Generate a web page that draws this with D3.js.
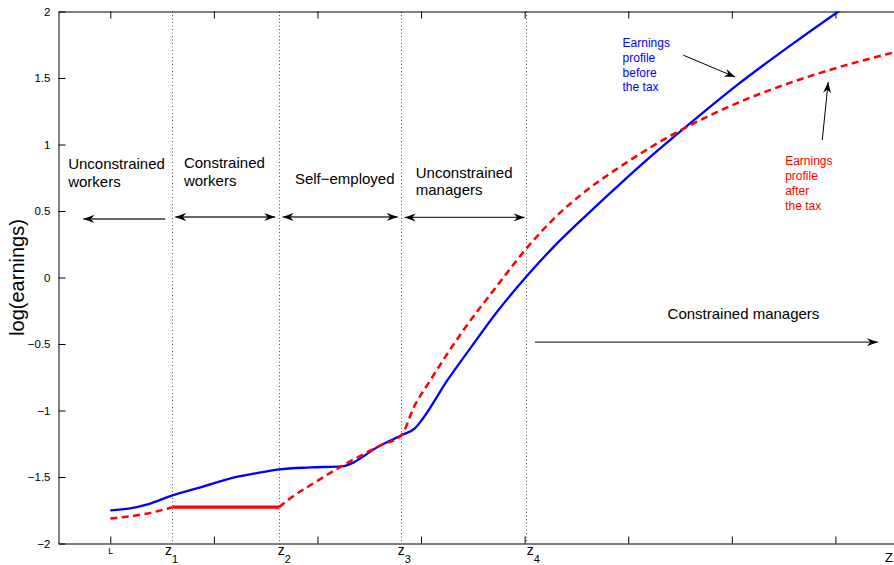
<!DOCTYPE html>
<html>
<head>
<meta charset="utf-8">
<script src="https://cdn.jsdelivr.net/npm/d3@7/dist/d3.min.js"></script>
<style>
  html, body { margin: 0; padding: 0; background: #fff; }
  svg { display: block; font-family: "Liberation Sans", Arial, Helvetica, sans-serif; }
</style>
</head>
<body>
<svg id="chart" width="894" height="565"></svg>
<script>
// Ability grid (x) and log earnings before the tax (blue, solid)
const blueX = [1.00, 1.19, 1.36, 1.60, 1.87, 2.16, 2.40, 2.63, 2.93, 3.23, 3.61, 3.81, 3.94, 4.02,
               4.25, 4.48, 4.74, 5.03, 5.28, 5.60, 5.92, 6.18, 6.57, 7.05, 7.54, 8.03, 8.24];
const blueY = [-1.751, -1.736, -1.706, -1.638, -1.578, -1.510, -1.473, -1.443, -1.428, -1.420, -1.262, -1.186, -1.134, -1.058,
               -0.778, -0.527, -0.252, 0.019, 0.230, 0.471, 0.702, 0.884, 1.141, 1.446, 1.730, 2.000, 2.110];

// Log earnings after the tax (red): unconstrained workers, constrained workers, everyone above z2
const redLowX = [1.00, 1.36, 1.60];
const redLowY = [-1.812, -1.774, -1.727];
const redFlatX = [1.60, 2.63];
const redFlatY = [-1.727, -1.727];
const redHighX = [2.63, 2.71, 2.96, 3.23, 3.61, 3.81, 3.93, 4.09, 4.41, 4.74, 5.03, 5.28, 5.63, 5.92,
                  6.21, 6.57, 7.05, 7.54, 8.02, 8.57, 8.75];
const redHighY = [-1.727, -1.676, -1.548, -1.420, -1.262, -1.186, -0.976, -0.772, -0.395, -0.056, 0.230, 0.441, 0.674, 0.832,
                  0.976, 1.134, 1.311, 1.458, 1.578, 1.694, 1.730];

// Occupational thresholds
const zCuts = [1.595, 2.628, 3.805, 5.011];
const zNames = ["1", "2", "3", "4"];
const zLabelX = [1.528, 2.617, 3.775, 5.020];

// Axis ticks
const xTicks = [1, 2, 3, 4, 5, 6, 7, 8];
const yTicks = [2, 1.5, 1, 0.5, 0, -0.5, -1, -1.5, -2];

// Region labels in data units
const regionLabels = [
  { lines: ["Unconstrained", "workers"], x: 0.593, y: 0.814, step: 0.136 },
  { lines: ["Constrained", "workers"], x: 1.711, y: 0.821, step: 0.136 },
  { lines: ["Self\u2212employed"], x: 2.782, y: 0.701, step: 0 },
  { lines: ["Unconstrained", "managers"], x: 3.949, y: 0.746, step: 0.128 },
  { lines: ["Constrained managers"], x: 6.38, y: -0.309, step: 0 }
];
// Region arrows in data units
const regionArrows = [
  { x0: 1.53, x1: 0.74, y: 0.440, both: false },
  { x0: 1.627, x1: 2.592, y: 0.455, both: true },
  { x0: 2.664, x1: 3.774, y: 0.455, both: true },
  { x0: 3.842, x1: 5.000, y: 0.452, both: true },
  { x0: 5.10, x1: 8.41, y: -0.486, both: false }
];

// Curve captions
const captionBefore = ["Earnings", "profile", "before", "the tax"];
const captionAfter = ["Earnings", "profile", "after", "the tax"];

const svg = d3.select("#chart");
const pLeft = 58.5, pTop = 11.5, pBottom = 543.5, pRight = 939;

const x = d3.scaleLinear().domain([0.5, 9]).range([pLeft, pRight]);
const y = d3.scaleLinear().domain([-2, 2]).range([pBottom, pTop]);

const defs = svg.append("defs");
defs.append("clipPath").attr("id", "plot-clip")
  .append("rect").attr("x", pLeft).attr("y", pTop).attr("width", pRight - pLeft).attr("height", pBottom - pTop);

defs.append("marker")
  .attr("id", "head")
  .attr("viewBox", "-11 -5 12 10")
  .attr("refX", 0).attr("refY", 0)
  .attr("markerWidth", 12).attr("markerHeight", 10)
  .attr("markerUnits", "userSpaceOnUse")
  .attr("orient", "auto-start-reverse")
  .append("path")
  .attr("d", "M0,0 L-11,-4 L-7.5,0 L-11,4 Z")
  .attr("fill", "#000");

// Dotted threshold lines
svg.append("g").selectAll("line").data(zCuts).join("line")
  .attr("x1", d => Math.round(x(d)) + 0.5).attr("x2", d => Math.round(x(d)) + 0.5)
  .attr("y1", pTop).attr("y2", pBottom)
  .attr("stroke", "#555").attr("stroke-width", 1)
  .attr("stroke-dasharray", "1,2.5");

// Axes (ticks pointing inward)
const gx = svg.append("g").attr("transform", `translate(0,${pBottom})`)
  .call(d3.axisBottom(x).tickValues(xTicks).tickSizeInner(-7).tickSizeOuter(0).tickPadding(4)
    .tickFormat(d => d === 1 ? "L" : ""));
gx.selectAll("text").attr("font-size", 9).attr("fill", "#000");

const gt = svg.append("g").attr("transform", `translate(0,${pTop})`)
  .call(d3.axisTop(x).tickValues(xTicks).tickSizeInner(-7).tickSizeOuter(0).tickFormat(""));

const gy = svg.append("g").attr("transform", `translate(${pLeft},0)`)
  .call(d3.axisLeft(y).tickValues(yTicks).tickSizeInner(-7).tickSizeOuter(0).tickPadding(8)
    .tickFormat(d => d < 0 ? "\u2212" + d3.format("")(-d) : d3.format("")(d)));
gy.selectAll("text").attr("font-size", 11.5).attr("fill", "#000");

[gx, gt, gy].forEach(g => {
  g.attr("font-family", null);
  g.select(".domain").attr("stroke", "#000").attr("stroke-width", 1);
  g.selectAll(".tick line").attr("stroke", "#000").attr("stroke-width", 1);
});

// Axis titles
svg.append("text")
  .attr("transform", `translate(24,${y(0)}) rotate(-90)`)
  .attr("text-anchor", "middle")
  .attr("font-size", 20)
  .text("log(earnings)");

const zl = svg.append("g");
zCuts.forEach((c, i) => {
  const t = zl.append("text").attr("x", x(zLabelX[i])).attr("y", 555).attr("font-size", 14);
  t.append("tspan").text("z");
  t.append("tspan").attr("dy", 8).attr("font-size", 11).text(zNames[i]);
});
svg.append("text").attr("x", 885).attr("y", 562).attr("font-size", 13).text("Z");

// Earnings profiles
const plot = svg.append("g").attr("clip-path", "url(#plot-clip)");
const line = d3.line().x(d => x(d[0])).y(d => y(d[1])).curve(d3.curveMonotoneX);
const flat = d3.line().x(d => x(d[0])).y(d => y(d[1]));

plot.append("path").datum(d3.zip(blueX, blueY))
  .attr("d", line).attr("fill", "none").attr("stroke", "#0000ff").attr("stroke-width", 2.3);

plot.append("path").datum(d3.zip(redLowX, redLowY))
  .attr("d", line).attr("fill", "none").attr("stroke", "#ff0000").attr("stroke-width", 2.5)
  .attr("stroke-dasharray", "7,4.5");
plot.append("path").datum(d3.zip(redFlatX, redFlatY))
  .attr("d", flat).attr("fill", "none").attr("stroke", "#ff0000").attr("stroke-width", 3.2);
plot.append("path").datum(d3.zip(redHighX, redHighY))
  .attr("d", line).attr("fill", "none").attr("stroke", "#ff0000").attr("stroke-width", 2.5)
  .attr("stroke-dasharray", "7,4.5");

// Region labels and arrows
const ann = svg.append("g");
regionLabels.forEach(r => {
  const t = ann.append("text").attr("font-size", 15).attr("fill", "#000");
  r.lines.forEach((s, i) => {
    t.append("tspan").attr("x", x(r.x)).attr("y", y(r.y - i * r.step)).text(s);
  });
});
regionArrows.forEach(a => {
  const l = ann.append("line")
    .attr("x1", x(a.x0)).attr("x2", x(a.x1))
    .attr("y1", y(a.y)).attr("y2", y(a.y))
    .attr("stroke", "#333").attr("stroke-width", 1.3)
    .attr("marker-end", "url(#head)");
  if (a.both) l.attr("marker-start", "url(#head)");
});

// Captions for the two profiles
const capB = ann.append("text").attr("font-size", 12).attr("fill", "#0000ff");
captionBefore.forEach((s, i) => capB.append("tspan").attr("x", x(5.945)).attr("y", y(1.733 - i * 0.111)).text(s));
const capA = ann.append("text").attr("font-size", 12).attr("fill", "#ff0000");
captionAfter.forEach((s, i) => capA.append("tspan").attr("x", x(7.515)).attr("y", y(0.844 - i * 0.111)).text(s));

ann.append("line")
  .attr("x1", x(6.531)).attr("y1", y(1.672)).attr("x2", x(7.033)).attr("y2", y(1.507))
  .attr("stroke", "#000").attr("stroke-width", 1).attr("marker-end", "url(#head)");
ann.append("line")
  .attr("x1", x(7.873)).attr("y1", y(1.032)).attr("x2", x(7.930)).attr("y2", y(1.469))
  .attr("stroke", "#000").attr("stroke-width", 1).attr("marker-end", "url(#head)");
</script>
</body>
</html>
